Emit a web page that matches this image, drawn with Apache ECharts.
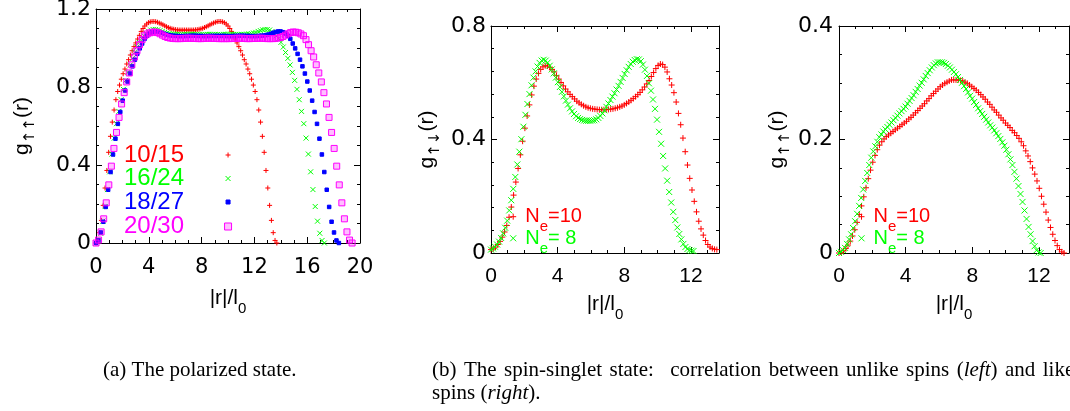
<!DOCTYPE html>
<html>
<head>
<meta charset="utf-8">
<title>pair correlation g(r)</title>
<script src="https://cdn.jsdelivr.net/npm/echarts@6.0.0/dist/echarts.min.js"></script>
<style>
html,body{margin:0;padding:0;background:#fff;}
#chart{width:1070px;height:411px;}
</style>
</head>
<body>
<div id="chart"></div>
<script>
// ================= DATA =================
// Each curve is sampled on a uniform r-grid from 0 to its rMax (101 samples).

// (a) polarized state, g_up,up(r)
const polLabels = ['10/15', '16/24', '18/27', '20/30'];
const polRMax = [13.7, 17.3, 18.4, 19.4];
const pol_10_15 = [0,0.013,0.053,0.116,0.193,0.282,0.372,0.465,0.547,0.62,
0.682,0.735,0.777,0.81,0.84,0.868,0.892,0.918,0.94,0.964,
0.986,1.007,1.026,1.046,1.065,1.085,1.1,1.113,1.123,1.13,
1.134,1.136,1.136,1.135,1.132,1.128,1.124,1.119,1.114,1.109,
1.105,1.101,1.098,1.096,1.094,1.093,1.092,1.092,1.092,1.092,
1.092,
1.092,1.092,1.092,1.092,1.093,1.094,1.096,1.098,1.101,1.105,
1.109,1.114,1.119,1.124,1.128,1.132,1.135,1.136,1.136,1.134,
1.13,1.123,1.113,1.1,1.085,1.065,1.046,1.026,1.007,0.986,
0.964,0.94,0.918,0.892,0.868,0.84,0.81,0.777,0.735,0.682,
0.62,0.547,0.465,0.372,0.282,0.193,0.116,0.053,0.013,0];
const pol_16_24 = [0,0.013,0.05,0.112,0.187,0.274,0.365,0.456,0.538,0.612,
0.675,0.735,0.788,0.834,0.875,0.913,0.947,0.977,1.005,1.029,
1.048,1.063,1.075,1.084,1.092,1.095,1.095,1.093,1.089,1.085,
1.08,1.077,1.074,1.072,1.071,1.07,1.07,1.069,1.069,1.07,
1.07,1.071,1.071,1.07,1.07,1.069,1.069,1.069,1.07,1.07,
1.07,
1.07,1.07,1.069,1.069,1.069,1.07,1.07,1.071,1.071,1.07,
1.07,1.069,1.069,1.07,1.07,1.071,1.072,1.074,1.077,1.08,
1.085,1.089,1.093,1.095,1.095,1.092,1.084,1.075,1.063,1.048,
1.029,1.005,0.977,0.947,0.913,0.875,0.834,0.788,0.735,0.675,
0.612,0.538,0.456,0.365,0.274,0.187,0.112,0.05,0.013,0];
const pol_18_27 = [0,0.013,0.054,0.109,0.185,0.273,0.364,0.454,0.535,0.611,
0.672,0.73,0.782,0.828,0.869,0.906,0.94,0.97,0.998,1.023,
1.047,1.063,1.074,1.081,1.085,1.085,1.082,1.078,1.073,1.069,
1.066,1.064,1.063,1.062,1.061,1.061,1.061,1.062,1.062,1.063,
1.063,1.063,1.062,1.062,1.061,1.061,1.061,1.062,1.062,1.062,
1.062,
1.062,1.062,1.062,1.061,1.061,1.061,1.062,1.062,1.063,1.063,
1.063,1.062,1.062,1.061,1.061,1.061,1.062,1.063,1.064,1.066,
1.069,1.073,1.078,1.082,1.085,1.085,1.081,1.074,1.063,1.047,
1.023,0.998,0.97,0.94,0.906,0.869,0.828,0.782,0.73,0.672,
0.611,0.535,0.454,0.364,0.273,0.185,0.109,0.054,0.013,0];
const pol_20_30 = [0,0.015,0.057,0.124,0.206,0.298,0.394,0.485,0.567,0.644,
0.713,0.771,0.826,0.872,0.914,0.954,0.986,1.017,1.043,1.063,
1.072,1.078,1.081,1.082,1.079,1.073,1.066,1.059,1.054,1.051,
1.049,1.048,1.048,1.048,1.049,1.05,1.05,1.05,1.049,1.049,
1.048,1.048,1.049,1.05,1.05,1.05,1.049,1.049,1.048,1.048,
1.048,
1.048,1.048,1.049,1.049,1.05,1.05,1.05,1.049,1.048,1.048,
1.049,1.049,1.05,1.05,1.05,1.049,1.048,1.048,1.048,1.049,
1.051,1.054,1.059,1.066,1.073,1.079,1.082,1.081,1.078,1.072,
1.063,1.043,1.017,0.986,0.954,0.914,0.872,0.826,0.771,0.713,
0.644,0.567,0.485,0.394,0.298,0.206,0.124,0.057,0.015,0];

// (b, left) spin-singlet, unlike spins g_up,down(r)
const udRMax = [13.55, 12.15];
const ud_Ne10 = [0.012,0.015,0.021,0.030,0.041,0.056,0.074,0.097,0.126,0.162,
0.204,0.250,0.298,0.346,0.394,0.440,0.483,0.522,0.557,0.588,
0.613,0.633,0.647,0.656,0.660,0.659,0.654,0.647,0.638,0.625,
0.613,0.601,0.589,0.578,0.568,0.559,0.551,0.543,0.535,0.529,
0.524,0.519,0.515,0.512,0.510,0.508,0.507,0.506,0.505,0.505,
0.505,0.505,0.506,0.507,0.508,0.510,0.512,0.515,0.518,0.522,
0.527,0.532,0.538,0.544,0.551,0.558,0.566,0.575,0.585,0.596,
0.608,0.622,0.636,0.650,0.661,0.666,0.664,0.655,0.638,0.614,
0.592,0.565,0.532,0.492,0.452,0.405,0.357,0.310,0.263,0.222,
0.182,0.145,0.112,0.085,0.063,0.044,0.030,0.021,0.016,0.013,0.012];
const ud_Ne8 = [0.012,0.016,0.022,0.030,0.040,0.053,0.069,0.089,0.114,0.150,
0.186,0.226,0.268,0.312,0.357,0.401,0.445,0.487,0.525,0.560,
0.591,0.618,0.640,0.657,0.670,0.678,0.681,0.678,0.671,0.660,
0.647,0.633,0.618,0.602,0.585,0.568,0.552,0.537,0.523,0.510,
0.499,0.490,0.482,0.476,0.472,0.469,0.467,0.466,0.466,0.466,
0.467,0.468,0.471,0.476,0.483,0.492,0.503,0.515,0.527,0.539,
0.551,0.563,0.576,0.589,0.603,0.617,0.631,0.644,0.656,0.666,
0.674,0.680,0.683,0.682,0.676,0.664,0.646,0.624,0.598,0.572,
0.541,0.508,0.470,0.427,0.385,0.342,0.298,0.255,0.215,0.178,
0.145,0.116,0.090,0.067,0.048,0.032,0.021,0.014,0.010,0.008,0.007];

// (b, right) spin-singlet, like spins g_up,up(r)
const uuRMax = [13.5, 12.1];
const uu_Ne10 = [0,0.001,0.004,0.008,0.014,0.021,0.030,0.041,0.054,0.068,
0.083,0.099,0.115,0.131,0.146,0.160,0.172,0.182,0.190,0.196,
0.201,0.205,0.208,0.211,0.214,0.217,0.220,0.223,0.226,0.229,
0.232,0.236,0.239,0.243,0.247,0.251,0.255,0.259,0.263,0.268,
0.272,0.277,0.281,0.285,0.289,0.293,0.296,0.299,0.301,0.303,
0.305,0.305,0.305,0.305,0.304,0.303,0.301,0.299,0.296,0.293,
0.290,0.287,0.283,0.279,0.275,0.271,0.266,0.262,0.257,0.252,
0.248,0.243,0.238,0.234,0.229,0.225,0.221,0.216,0.212,0.207,
0.202,0.196,0.189,0.180,0.171,0.161,0.150,0.139,0.127,0.114,
0.100,0.086,0.072,0.058,0.045,0.033,0.022,0.013,0.006,0.002,0];
const uu_Ne8 = [0,0.002,0.005,0.009,0.016,0.024,0.033,0.044,0.056,0.069,
0.083,0.097,0.112,0.127,0.141,0.155,0.168,0.179,0.188,0.196,
0.204,0.209,0.214,0.218,0.222,0.226,0.230,0.234,0.238,0.242,
0.246,0.250,0.254,0.258,0.263,0.268,0.273,0.278,0.284,0.289,
0.295,0.300,0.306,0.312,0.317,0.322,0.327,0.331,0.334,0.336,
0.336,0.336,0.335,0.333,0.330,0.327,0.323,0.319,0.315,0.310,
0.305,0.300,0.294,0.289,0.283,0.277,0.272,0.266,0.261,0.255,
0.250,0.245,0.240,0.235,0.230,0.225,0.221,0.216,0.211,0.206,
0.201,0.195,0.189,0.182,0.174,0.165,0.155,0.143,0.131,0.118,
0.104,0.090,0.075,0.060,0.046,0.033,0.021,0.012,0.005,0.001,0];

// tick labels
const xTicksA = [0, 4, 8, 12, 16, 20];
const yTicksA = [0, 0.4, 0.8, 1.2];
const xTicksB = [0, 4, 8, 12];
const yTicksB = [0, 0.4, 0.8];
const xTicksC = [0, 4, 8, 12];
const yTicksC = [0, 0.2, 0.4];

// ================= CHART =================
const FONT = '"Liberation Sans", Arial, Helvetica, "DejaVu Sans", sans-serif';
const WIDE = '"DejaVu Sans", "Liberation Sans", sans-serif';
const SERIF = '"Liberation Serif", "Times New Roman", Times, serif';
const SYM = {
  plus: 'path://M0,5L10,5M5,0L5,10',
  cross: 'path://M0,0L10,10M0,10L10,0',
  box: 'path://M0,0L10,0L10,10L0,10Z'
};
function onGrid(vals, rMax) {
  const n = vals.length - 1;
  return vals.map((v, i) => [rMax * i / n, v]);
}
function tickFmt(list) {
  return function (v) {
    for (const t of list) { if (Math.abs(v - t) < 1e-6) return String(t); }
    return '';
  };
}
const subRich = (pad, size, fam) => ({
  s: {fontSize: size, fontFamily: fam, color: '#000', verticalAlign: 'top', lineHeight: 1, padding: [pad, 0, 0, 0]}
});

function makeAxes(dim, gi, cfg) {
  const ticks = cfg.ticks;
  const common = {
    type: 'value', gridIndex: gi,
    min: ticks[0], max: cfg.max, interval: ticks[1] - ticks[0],
    axisLine: {show: true, onZero: false, lineStyle: {color: '#000', width: 1}},
    axisTick: {show: true, inside: true, length: 6, lineStyle: {color: '#000', width: 1}},
    minorTick: {show: true, splitNumber: cfg.minor, length: 3, lineStyle: {color: '#000', width: 1}},
    splitLine: {show: false}, minorSplitLine: {show: false}, splitArea: {show: false},
    silent: true
  };
  const main = Object.assign({}, common, {
    position: dim === 'x' ? 'bottom' : 'left',
    axisLabel: {show: true, color: '#000', fontSize: cfg.labelSize, fontFamily: cfg.labelFont,
      margin: cfg.labelMargin, formatter: tickFmt(ticks), showMinLabel: true, showMaxLabel: true},
    name: cfg.name, nameLocation: 'middle', nameGap: cfg.nameGap,
    nameRotate: dim === 'y' ? 90 : 0,
    nameTextStyle: {color: '#000', fontSize: 21, fontFamily: FONT, lineHeight: 24,
      rich: subRich(cfg.subPad, cfg.subSize, cfg.subFont)}
  });
  const mirror = Object.assign({}, common, {
    position: dim === 'x' ? 'top' : 'right',
    axisLabel: {show: false}, name: ''
  });
  return [main, mirror];
}

const xName = '|r|/l{s|0}';
const xAxes = [].concat(
  makeAxes('x', 0, {ticks: xTicksA, max: 20, minor: 4, labelMargin: 14, labelSize: 21, labelFont: WIDE,
    name: xName, nameGap: 43, subPad: 15, subSize: 15, subFont: FONT}),
  makeAxes('x', 1, {ticks: xTicksB, max: 13.68, minor: 4, labelMargin: 13, labelSize: 21, labelFont: FONT,
    name: xName, nameGap: 33, subPad: 15, subSize: 15, subFont: FONT}),
  makeAxes('x', 2, {ticks: xTicksC, max: 13.8, minor: 4, labelMargin: 13, labelSize: 21, labelFont: FONT,
    name: xName, nameGap: 33, subPad: 15, subSize: 15, subFont: FONT})
);
const yAxes = [].concat(
  makeAxes('y', 0, {ticks: yTicksA, max: 1.2, minor: 4, labelMargin: 5, labelSize: 22, labelFont: WIDE,
    name: 'g{s|↑↑}(r)', nameGap: 62, subPad: 13, subSize: 15, subFont: WIDE}),
  makeAxes('y', 1, {ticks: yTicksB, max: 0.8, minor: 5, labelMargin: 5, labelSize: 22, labelFont: WIDE,
    name: 'g{s|↑↓}(r)', nameGap: 52, subPad: 13, subSize: 15, subFont: WIDE}),
  makeAxes('y', 2, {ticks: yTicksC, max: 0.4, minor: 4, labelMargin: 6, labelSize: 22, labelFont: WIDE,
    name: 'g{s|↑↑}(r)', nameGap: 50, subPad: 13, subSize: 15, subFont: WIDE})
);

const RED = '#ff0000', GREEN = '#00ff00', BLUE = '#0000ff', MAG = '#ff00ff';
const series = [];
function addSeries(name, gi, vals, rMax, sym, size, fill, stroke) {
  series.push({
    type: 'scatter', name: name, xAxisIndex: gi * 2, yAxisIndex: gi * 2,
    data: onGrid(vals, rMax), symbol: sym, symbolSize: size,
    itemStyle: {color: fill, borderColor: stroke, borderWidth: 1, opacity: 1},
    emphasis: {disabled: true}, silent: true, clip: false, animation: false
  });
}
addSeries(polLabels[0], 0, pol_10_15, polRMax[0], SYM.plus, 5, RED, RED);
addSeries(polLabels[1], 0, pol_16_24, polRMax[1], SYM.cross, 5, GREEN, GREEN);
addSeries(polLabels[2], 0, pol_18_27, polRMax[2], SYM.box, 3.5, BLUE, BLUE);
addSeries(polLabels[3], 0, pol_20_30, polRMax[3], SYM.box, 6, 'rgba(255,0,255,0.25)', MAG);
addSeries('ud Ne=10', 1, ud_Ne10, udRMax[0], SYM.plus, 6, RED, RED);
addSeries('ud Ne=8', 1, ud_Ne8, udRMax[1], SYM.cross, 6, GREEN, GREEN);
addSeries('uu Ne=10', 2, uu_Ne10, uuRMax[0], SYM.plus, 6, RED, RED);
addSeries('uu Ne=8', 2, uu_Ne8, uuRMax[1], SYM.cross, 6, GREEN, GREEN);

// legends
const legends = [];
const polColors = [RED, GREEN, BLUE, MAG];
const polLegTop = [143, 166.5, 190, 214.5];
const polLegH = [5, 5, 4, 7];
polLabels.forEach((lab, k) => legends.push({
  show: true, selectedMode: false, orient: 'vertical', align: 'right',
  left: 124, top: polLegTop[k], padding: 0, itemGap: 0,
  itemWidth: 78, itemHeight: polLegH[k], data: [lab],
  textStyle: {color: polColors[k], fontSize: 24, fontFamily: FONT, lineHeight: 24},
  itemStyle: {borderWidth: 1}
}));
function neLegend(name, left, top, color, label) {
  legends.push({
    show: true, selectedMode: false, orient: 'vertical', align: 'left',
    left: left, top: top, padding: 0, itemGap: 0, itemWidth: 14, itemHeight: 6,
    data: [name], formatter: () => label,
    textStyle: {color: color, fontSize: 20, fontFamily: FONT, lineHeight: 22,
      rich: {e: {fontSize: 15, fontFamily: FONT, color: color, verticalAlign: 'top', lineHeight: 1, padding: [14, 0, 0, 0]}}},
    itemStyle: {borderWidth: 1}
  });
}
neLegend('ud Ne=10', 509.7, 205.7, RED, 'N{e|e}=10');
neLegend('ud Ne=8', 509.7, 227.3, GREEN, 'N{e|e}= 8');
neLegend('uu Ne=10', 858, 205.7, RED, 'N{e|e}=10');
neLegend('uu Ne=8', 858, 227.3, GREEN, 'N{e|e}= 8');

const capTok = {fontSize: 21, fontFamily: SERIF, color: '#000', lineHeight: 23};
const option = {
  backgroundColor: '#ffffff',
  animation: false,
  textStyle: {fontFamily: FONT},
  grid: [
    {left: 96, top: 9, width: 264, height: 234, outerBoundsMode: 'none', containLabel: false},
    {left: 491, top: 26, width: 228, height: 227, outerBoundsMode: 'none', containLabel: false},
    {left: 839, top: 26, width: 230, height: 227, outerBoundsMode: 'none', containLabel: false}
  ],
  xAxis: xAxes,
  yAxis: yAxes,
  legend: legends,
  series: series,
  graphic: [
    {type: 'text', left: 103, top: 358.5, silent: true,
      style: {text: '(a) The polarized state.', fontSize: 21, fontFamily: SERIF, fill: '#000', lineHeight: 23}},
    {type: 'text', left: 432, top: 358.5, silent: true,
      style: {text: '(b){a| }The{a| }spin-singlet{a| }state:{b|  }correlation{a| }between{a| }unlike{a| }spins{a| }({i|left}){a| }and{a| }like\nspins ({i|right}).',
        fontSize: 21, fontFamily: SERIF, fill: '#000', lineHeight: 23,
        rich: {
          i: Object.assign({fontStyle: 'italic'}, capTok),
          a: Object.assign({padding: [0, 2.2, 0, 0]}, capTok),
          b: Object.assign({padding: [0, 6, 0, 0]}, capTok)
        }}}
  ]
};
const chart = echarts.init(document.getElementById('chart'), null, {renderer: 'canvas'});
chart.setOption(option);
</script>
</body>
</html>
